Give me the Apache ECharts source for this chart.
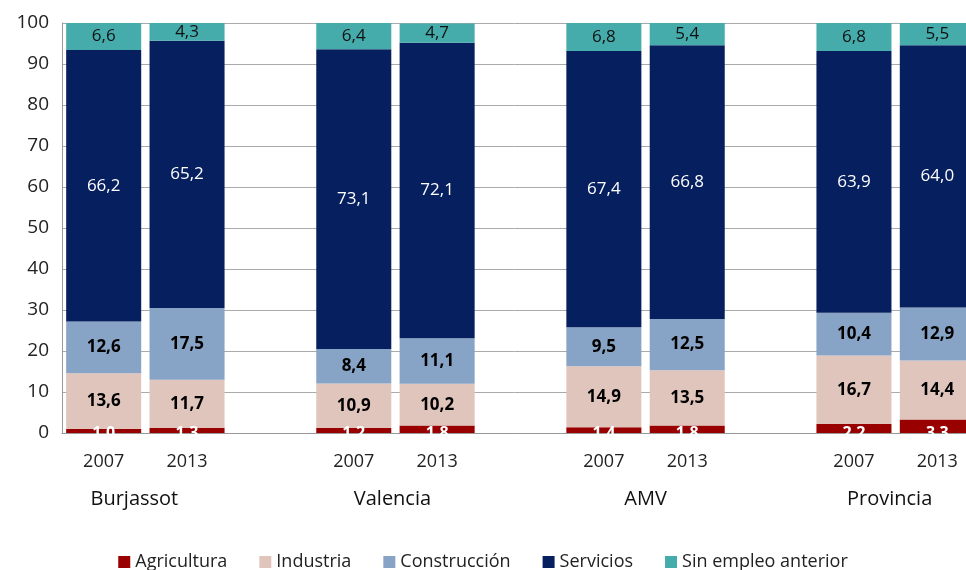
<!DOCTYPE html>
<html>
<head>
    <meta charset="utf-8" />
    <title>ECharts</title>
    <script src="https://cdn.jsdelivr.net/npm/echarts@6/dist/echarts.min.js"></script>
    <style>
        html, body { margin: 0; padding: 0; background: #fff; }
    </style>
</head>
<body>
<div id="main" style="width: 966px;height:570px;"></div>

<script type="text/javascript">
    // categorías: dos años por ámbito, con un hueco entre grupos
    var years = ['2007', '2013', '', '2007', '2013', '', '2007', '2013', '', '2007', '2013'];
    var groups = ['', 'Burjassot', '', '', 'Valencia', '', '', 'AMV', '', '', 'Provincia', ''];

    var agricultura = [1.0, 1.3, '-', 1.2, 1.8, '-', 1.4, 1.8, '-', 2.2, 3.3];
    var industria = [13.6, 11.7, '-', 10.9, 10.2, '-', 14.9, 13.5, '-', 16.7, 14.4];
    var construccion = [12.6, 17.5, '-', 8.4, 11.1, '-', 9.5, 12.5, '-', 10.4, 12.9];
    var servicios = [66.2, 65.2, '-', 73.1, 72.1, '-', 67.4, 66.8, '-', 63.9, 64.0];
    var sinEmpleo = [6.6, 4.3, '-', 6.4, 4.7, '-', 6.8, 5.4, '-', 6.8, 5.5];

    var fmt = function (p) {
        return p.value.toFixed(1).replace('.', ',');
    };
    var font = 'Open Sans';

    // los nombres de grupo del original no quedan del todo centrados
    var groupPad = { 'Burjassot': 22, 'Valencia': 6, 'Provincia': 12 };
    var groupData = groups.map(function (g) {
        return { value: g, textStyle: { padding: [0, groupPad[g] || 0, 0, 0] } };
    });

    function serie(name, data, color, label) {
        return {
            name: name,
            type: 'bar',
            stack: 'total',
            barCategoryGap: '10%',
            data: data,
            itemStyle: { color: color },
            label: Object.assign({ show: true, formatter: fmt, fontFamily: font, fontSize: 17 }, label)
        };
    }

    var myChart = echarts.init(document.getElementById('main'));

    var option = {
        animation: false,
        textStyle: { fontFamily: font },
        // la rejilla sigue más allá del borde derecho, como en el original
        grid: { left: 62, width: 917, top: 23, height: 410, outerBoundsMode: 'none', containLabel: false },
        legend: {
            top: 548,
            left: 'center',
            itemWidth: 12,
            itemHeight: 12,
            itemGap: 32,
            icon: 'rect',
            textStyle: { fontSize: 18, color: '#222', fontFamily: font },
            data: ['Agricultura', 'Industria', 'Construcción', 'Servicios', 'Sin empleo anterior']
        },
        xAxis: [
            {
                type: 'category',
                data: years,
                axisLine: { lineStyle: { color: '#999' } },
                axisTick: { show: false },
                axisLabel: { fontSize: 18, color: '#222', margin: 20, fontFamily: font }
            },
            {
                type: 'category',
                data: groupData,
                position: 'bottom',
                offset: 48,
                boundaryGap: false,
                axisLine: { show: false },
                axisTick: { show: false },
                axisLabel: { fontSize: 20, color: '#111', interval: 0, fontFamily: font }
            }
        ],
        yAxis: {
            type: 'value',
            min: 0,
            max: 100,
            interval: 10,
            axisLine: { show: true, lineStyle: { color: '#999' } },
            axisTick: { show: false },
            splitLine: { lineStyle: { color: '#aaa' } },
            axisLabel: { fontSize: 19, color: '#222', margin: 13, fontFamily: font }
        },
        series: [
            serie('Agricultura', agricultura, '#990000', {
                position: ['50%', '100%'], align: 'center', verticalAlign: 'middle',
                color: '#fff', fontWeight: 'bold', fontSize: 16
            }),
            serie('Industria', industria, '#E0C5BD', { color: '#000', fontWeight: 'bold' }),
            serie('Construcción', construccion, '#87A3C5', { color: '#000', fontWeight: 'bold' }),
            serie('Servicios', servicios, '#061F5E', { color: '#fff' }),
            serie('Sin empleo anterior', sinEmpleo, '#45ABAB', { color: '#111' })
        ]
    };

    myChart.setOption(option);
</script>
</body>
</html>
